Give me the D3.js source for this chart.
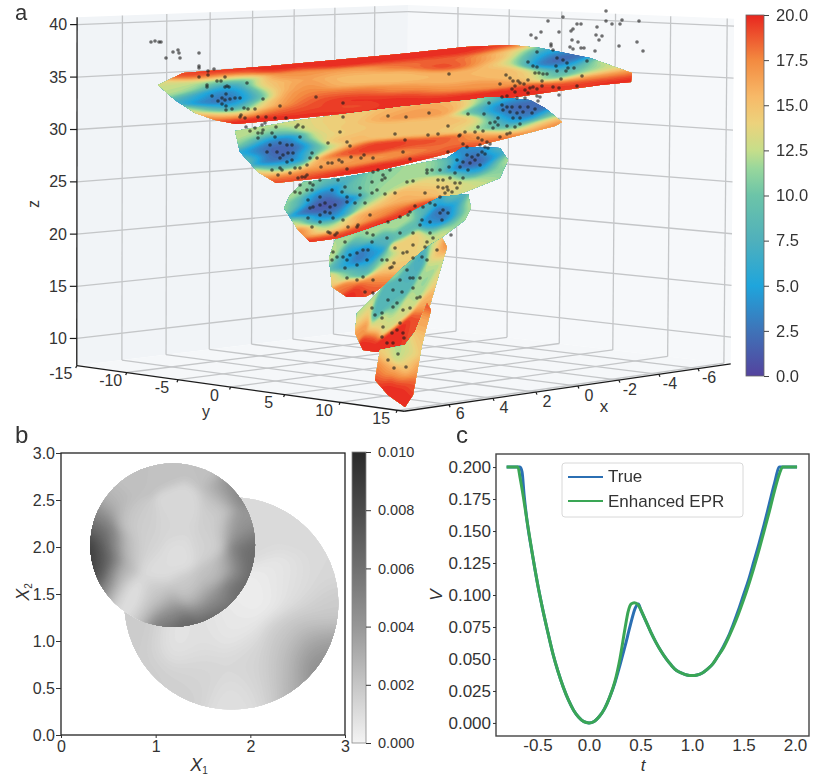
<!DOCTYPE html>
<html><head><meta charset="utf-8">
<script src="https://cdn.jsdelivr.net/npm/d3@7"></script>
<style>html,body{margin:0;padding:0;background:#fff}svg{display:block}text{font-family:"Liberation Sans",Arial,sans-serif;fill:#333}</style>
</head><body><svg id="c" width="815" height="780"></svg>
<script>
// ---------- panel a: ticks ----------
const xTicksA=[-6,-4,-2,0,2,4,6];
const yTicksA=[-10,-5,0,5,10,15];
const zTicksA=[10,15,20,25,30,35,40];
const barTicksA=[0,2.5,5,7.5,10,12.5,15,17.5,20];
const heatStops=[0,2.5,5,7.5,10,11.5,12.5,14,15.5,17.5,20];
const heatColors=["#54439e","#3f73b8","#1fa5dc","#4fb0bc","#6cc4a8","#98d79c","#c6de8a","#ecd27c","#f7b968","#f38a40","#e8261f"];
// ---------- panel a: the six surface slabs, in view units (u along the screen, v height) ----------
const slabAOutline=[[-24.2,34],[-21.7,35.2],[-13,35.9],[0,37.1],[6.5,37.8],[11,38],[14,37.7],[19,36.7],[23.2,35.2],[23.1,34.3],[20,34],[13,33],[8,32.3],[0,31.7],[-10,30.7],[-16.4,30.1],[-18.5,30.5],[-20.5,31.2],[-22.5,32.5]];
const slabAValues=[[-17.4,32.7,0],[-18.3,32.7,1],[-16.5,32.7,1],[-18.8,32.7,4],[-16,32.7,4],[-17.4,33.5,5],[-17.4,31.9,5],[-20,32.8,8.5],[-14.8,32.7,8],[-17.4,34.5,11],[-17.4,31,12],[-21,33.5,12],[-22.5,33.7,12.5],[-24,34,13],[-20,31.5,14],[-13.8,33.3,12],[-13.8,32,13],[-20.5,35.1,19],[-16,35.7,20],[-17.4,35,18],[-17.8,30.5,20],[-16,30.2,20],[-19,30.8,20],[-13,34,14.5],[-12.5,32.5,16],[-12,31.5,18],[-10,36.3,19.5],[-10,35,17],[-10,34,17.5],[-11,33.3,18],[-10,32.5,18.5],[-10,31.5,19.5],[-5,36.3,20],[-5,35.3,16.5],[-5,34.3,15.5],[-5,33.3,17.5],[-5,32.5,20],[-5,31.7,18.5],[-5,31.2,20],[0,36.9,20],[0,36,18],[0,34.7,15.5],[0,33.5,17],[0,32.5,20],[0,31.9,20],[5,37.5,20],[5,36.5,18.5],[5,35.9,19.5],[5,34.7,15.8],[5,33.5,16.5],[5,32.5,20],[9,37.7,19.5],[9,36.5,17],[9,35.5,15.5],[9,34,17],[9,32.8,20],[15.5,36.5,0],[14.7,36.6,1],[16.3,36.4,1],[14,36.8,4],[17,36.2,4],[15.5,37.3,7],[16,35.5,6],[12.5,36.7,9.5],[18.5,35.7,9.5],[12,37.5,11],[20,35.7,13],[20,36.3,14],[19,35.5,12],[21.5,35.3,16],[19,34.7,17],[22.5,35,19],[22.5,34.4,20],[18,34,19.5],[15,33.7,18.5],[13,35,14.5],[12,35.3,15.5],[11,36.3,13],[10.5,37,16],[13,33.3,20],[-18.5,35.5,20],[-13,35.7,20],[-7,36.3,20],[0,36.8,20],[6.5,37.5,20],[10,37.8,20],[-13,30.6,20],[-7,31.2,20],[6,32.5,20],[10,32.9,20],[15,33.5,20],[20,34.2,20],[-5,32.9,19.5],[0,32.9,19.5],[5,33,19.5],[-9,32.3,19],[-5,34.8,15],[0,34.9,15.3],[5,34.9,15.5]];
const slabBOutline=[[-16.5,29.4],[-10,30.5],[0,31.8],[7,32.5],[9,32.8],[13,32.5],[14.5,31.7],[16.2,30.3],[15.5,29.9],[12,29],[8,28],[3,26.7],[-2,25.5],[-7,24.8],[-12.4,24.2],[-14.2,25.3],[-16,27.3]];
const slabBValues=[[-12.1,27.4,0],[-13.3,27.4,0.5],[-10.9,27.4,0.5],[-12.1,28,1],[-12.1,26.8,1],[-13.8,27.5,3.5],[-10.4,27.5,3.5],[-12.1,28.5,5],[-12.1,26.2,5],[-15,27.5,6],[-8.8,27.5,7],[-12,29.4,11],[-15,29.5,12],[-16,29,12.5],[-16.3,28,12.5],[-15.7,26.5,12.5],[-14.5,25.3,14],[-12,25.7,8],[-13,25,13],[-11,24.8,17],[-12.3,24.3,20],[-14.2,24.9,20],[-9,29.8,14],[-8,28.8,13],[-7.5,27.5,13.5],[-7,26.2,16],[-8,25.3,17],[-9,24.7,19.5],[-6.5,25,20],[-10,30.3,13.5],[-6,30.7,14.5],[0,31.3,15.5],[4,31.8,15.5],[7,32.2,13],[-5,29.5,14.8],[0,30,15],[5,30.3,15.2],[8,30.7,15.5],[1.3,31.2,17.5],[4.5,31.7,17.5],[11.3,31.5,0],[10,31.4,0.5],[12.6,31.2,0.5],[9.5,31.7,4],[13,31.3,3.5],[11.3,32.5,5],[11.3,30.5,6],[8,31.5,10],[15,31,10],[9,30,10],[12,29.7,11],[14.5,30.3,14],[15.8,30.3,17],[15.5,29.9,19],[13.5,29.5,17],[10,28.5,18],[7,27.9,19],[8,28.7,15],[7,30,13],[9,32.5,9],[-5,27.4,19.5],[-2,27.8,19.5],[3,28.2,19],[6.3,28.5,19],[-5,26.2,17],[0,27,17],[4,27.5,17],[-5,25.1,20],[0,26,20],[5,27.2,19.5],[-6,28.5,15.5],[0,29.3,14.8],[5,29.7,15.2],[-13,24.7,20],[-8,24.9,20],[-3,25.5,20],[2,26.7,20],[6,27.7,20],[10,28.6,19]];
const slabCOutline=[[-11.6,21.7],[-11,23],[-9.7,24.3],[-6,24.7],[-1,25.6],[4.7,26.7],[6.3,27.8],[10,27.7],[10.8,26.5],[10,24.7],[6.5,23.3],[2.3,22],[-2,19.7],[-6,18.7],[-9,18.3],[-10.2,19.5]];
const slabCValues=[[-7.7,21.8,0],[-8.9,21.8,0.5],[-6.5,21.8,0.5],[-7.7,22.5,1],[-7.7,21,1],[-9.5,22,4],[-5.8,22,3.5],[-7.7,23.2,5],[-7.7,20.5,6],[-10.5,22,10],[-11.2,21.7,12.5],[-10.5,23,12.5],[-9,24,11],[-7,24.3,8],[-5,23.5,9],[-4,22,11],[-10,20.3,13.5],[-9,19.5,17],[-9,18.5,20],[-10,19.3,19],[-7,19.7,11],[-5.5,20,15],[-5,19.3,19],[-3,19.7,19.5],[-3.5,20.7,17],[-2,22,15],[7.3,26.5,0.5],[6.5,26.5,1],[8.2,26.5,1],[7.3,26,1.5],[5.8,26.5,4],[9,26.8,4.5],[7.3,27.5,5],[7,25.3,7],[4.5,26,9.5],[10.5,26.5,13],[9.5,27.5,10],[9.5,25.3,11],[7,24.2,13],[5,24.7,13],[4,26,12],[3,24,14],[1,23,16],[5,24,14.5],[0,24.5,12],[-3,24,11],[-1,21.5,17.5],[2,23,15.5],[-8,18.5,20],[-5,18.9,20],[-2,19.9,20],[1,21.5,19.5]];
const slabDOutline=[[-7.1,16.7],[-6.5,18.5],[-4,19.3],[0,20.7],[4,22.8],[6.8,23.1],[7.1,21.7],[6.5,20.5],[4.5,19],[3.2,18],[1.5,16.7],[0,15.3],[-2.2,13.5],[-3.5,12.8],[-5.3,12.8],[-6.8,13.8]];
const slabDValues=[[-4.2,16.7,1.5],[-5,16.7,3],[-3.4,16.7,3],[-5.2,16.5,5],[-3,16.8,5],[-5.7,16.5,9],[-4.2,18,8],[-4,15.5,9],[-7,16.8,12.5],[-6,18.2,12],[-5.3,15.2,11],[-6.7,14.5,15],[-5.7,13.7,18],[-4.7,13,20],[-3.3,13.5,19],[-2.3,14.5,17],[-1,15.8,15],[-2,16.2,11],[-0.5,16.3,14],[1.2,18.5,14.5],[-2,18.5,8],[0.7,19.5,9],[3.3,20.2,6],[4.3,21.2,1.5],[3.5,21,2],[5,21.3,2.5],[5.5,21.5,6],[3,22,7],[5,22.5,10],[6.7,22,12.5],[6.2,20.7,12],[4,19.3,13],[2,18.5,14],[-3,19,12],[0,20.3,12],[2.5,21.5,9]];
const slabEOutline=[[-4.3,11.2],[-4.5,9.2],[-3.7,7.5],[-2.3,7.3],[0.5,8],[1.3,9],[3,12],[4.7,17.8],[4.2,18.7],[3,18],[0,15.5],[-2.5,13]];
const slabEValues=[[-2,11.8,8],[0,13.2,8],[2,16.2,7],[0.7,14.2,8],[-4,11.5,12],[3.3,14.2,14],[2.7,12.5,16],[1.3,10.2,19],[0,9.2,20],[-1.7,7.8,20],[-3.3,8.2,20],[-4.3,9.3,17],[-4,10.5,14],[-2,10.2,13],[-0.7,10.8,13],[0.7,11.8,13],[1.7,13.2,12],[3,15.8,12],[4,17.5,15],[4.5,18.3,20],[3.7,17.8,12],[1,17.2,11],[-1,12.5,8],[1,15,8],[2.5,14,11],[-0.5,11.8,10]];
const slabFOutline=[[2.7,12.2],[3.1,11.5],[2.2,8],[1.3,3],[0.5,1.8],[-1.2,3],[-2.5,4.5],[-2,7.5],[0.5,8],[1.5,9.3]];
const slabFValues=[[-0.2,7.2,12],[-1.5,7,14],[1,7.5,13],[-1.5,5.5,16],[0.8,6,14],[-2,5,18],[-2.2,4.3,20],[-1.5,3.3,20],[-0.5,2.5,20],[0.5,2.2,20],[1.2,4,19],[1.5,5.5,17],[2,8,15],[2.5,10.5,16],[2.8,11.9,19],[-0.2,5,16],[-0.8,4,20],[0,3.7,20],[-2.3,5.8,18]];
const slabs=[[slabAOutline,slabAValues,3.0,0.48,0.085],[slabBOutline,slabBValues,2.6,0.5,0.16],[slabCOutline,slabCValues,2.0,0.55,0.3],[slabDOutline,slabDValues,1.3,0.6,0.45],[slabEOutline,slabEValues,0.9,0.7,1],[slabFOutline,slabFValues,0.8,1,0]];
// ---------- panel a: scatter, same view units ----------
const scatterA=[[-24.9,38.3],[-24.5,38.4],[-24.1,38.3],[-23.9,38.3],[-22.7,37.3],[-22.2,37.5],[-22.1,37.2],[-23.4,36.7],[-22,36.7],[-20.1,37.2],[-20.1,35.9],[-20.1,35.7],[-18.6,35.6],[-20.1,34.8],[-19.2,35],[-19.2,35.4],[-17.5,34.8],[-17.9,34.4],[-18.3,34.4],[-19.3,33.8],[-19.3,34],[-17.5,33.8],[-17.3,33.9],[-17.1,33.8],[-17.4,33.1],[-15.3,34.2],[-18.8,32.9],[-18.2,32.4],[-17.8,32.7],[-17.5,32.5],[-17,32.6],[-16.5,32.7],[-16,32.7],[-17.8,32.1],[-17.4,31.9],[-17.4,31.5],[-16.8,31.6],[-15.6,31.7],[-15.2,31.6],[-14.5,31.6],[-13.7,32.6],[-12,31.9],[-15.9,31],[-15.5,30.7],[-14.2,30.8],[-16,30.8],[-13.4,30.8],[-12.5,30.7],[-11.4,30.7],[-8.4,32.8],[-5.7,32.2],[-5.7,30.8],[-1.2,30.9],
[-15.4,29.8],[-15,29.4],[-14.5,29.7],[-13.8,30],[-13.5,30.2],[-13.8,29.2],[-14.2,28.7],[-12.4,29.8],[-10.4,29.8],[-9.7,29.8],[-13,28],[-13.3,27.3],[-12,28.2],[-11.3,28],[-10.8,28],[-12.3,27.3],[-11.7,27],[-11.2,27.2],[-10.7,27.2],[-12,26.7],[-11.3,26.3],[-10.8,26.5],[-12.8,25.5],[-12,25.7],[-11.8,25.5],[-13.7,29.5],[-12.8,29.2],[-12.5,28.8],[-14.2,29.2],[-10.2,30],[-10,28.8],[-8.8,27.2],[-9,26.7],[-8.3,26.7],[-9.3,26],[-10,25.7],[-10.5,25.7],[-9.8,24.8],[-9.5,24.8],[-10.2,24.7],[-9.3,25],[-12.2,25],[-11,25.2],
[-6,29.3],[-7.2,28.2],[-5.3,28.3],[-5,27.9],[-0.5,29.1],[0.5,28.5],[2.8,29],[3.8,29.1],[4.8,29.9],[6,29],[6.5,29.3],[7.5,29.3],[7.8,29.8],[0.3,27.3],[1,26.6],[4.8,27.3],[-7.2,26.2],[-6.8,26.2],[-6.1,26.5],[-5.8,26.3],[-4.9,26.8],[-3.9,26.7],[-3.6,27],[-2.7,26.7],[-5.3,25.6],[-7.9,25.8],[-2.7,25.3],[-2.2,25.5],[-1,25.5],[0.6,30.8],[2.9,31.2],[6.8,31.1],
[7.8,28.7],[8.2,28.5],[8.7,28.3],[8,28],[8.5,27.8],[8.8,27.7],[6.7,27.8],[6.7,27],[7.2,26.8],[7.8,27],[8.2,27.3],[8.5,27.1],[6.3,26.3],[7,26.2],[7.5,26.5],[6.8,25.5],[5.7,26.5],[6,25.8],[5.5,25.2],[4.9,25.8],[8,26],
[2.7,25.5],[3.2,25.5],[4,25.5],[2.7,25.2],[3.8,24.5],[4.3,24.5],[4.7,23.8],[4.3,23.7],[4.8,23.5],[5.2,23.3],[5.7,23.7],[6,24.2],[6.3,24.7],[5.5,24.2],[5,24.7],[4.5,23.2],[4,22.8],[3.5,22],[3,22.2],[2.5,23.2],[3.8,23.8],[-1.7,25],[-1.5,24.7],[-1.8,24.5],[-2.8,24.3],[-4,23.7],[-2.3,23.5],[-2.8,23.2],[-1.5,23.1],[-0.5,23.2],[0.7,24.3],[1.3,24.4],[1.5,21.9],[2.3,21.8],[1,21.3],[0,20.8],[-1.2,20.3],[-3,21],[-3.5,22.2],[-4.5,22.2],[-4,23],[-5.2,19.8],[-4.2,20],[-3.3,19.2],[-6.3,19.2],[-7,19.2],[-6.5,19],
[-7.5,22.2],[-8,22],[-8.7,21.8],[-9,21.7],[-7,21.8],[-6.5,22],[-8,22.8],[-6.8,23.5],[-5.8,23.3],[-5.3,22.8],[-5.3,22.3],[-9.2,22.5],[-7.5,21.3],[-8,21],[-7,21.2],[-5.7,20.5],[-6.7,20.7],[-9.2,20.7],[-8.8,19.8],[-8,20.3],[-8.7,24],[-9,24.2],[-9.3,23.5],[-8.8,23.5],[-8,24.5],[-6.2,24.5],[-5.5,23.8],[-10,23.2],[-10.5,23.3],[-10,24],
[20.6,41.4],[16.3,40.8],[14.8,40.4],[20.6,40.4],[21.2,40.1],[22,40.1],[22.2,40.5],[23.9,40.4],[17.7,40.1],[18.1,40.1],[19.7,39.8],[14.1,39.3],[15.9,39.3],[17.3,39.6],[17.1,39.4],[19.6,39],[20.2,38.9],[13.1,39],[13.6,38.7],[19.9,38.5],[17.2,38.5],[17.8,38.3],[23.7,38.3],[21.9,37.9],[24.3,37.4],[15.1,38.1],[15.1,37.9],[17,37.8],[17.3,37.6],[18.1,37.7],[18.4,37.7],[19.5,37.4],
[15.3,37.5],[13.7,37.3],[12.8,36.3],[13.3,35.9],[13.7,35.8],[15.7,36.7],[16.3,36.5],[15.6,35.9],[16.7,36.2],[16.8,35.7],[17.4,35.7],[16.6,35.4],[15.7,35.4],[18.7,36.4],[18.2,34.9],[17.7,33.9],[14.7,35.1],[14.3,35.1],[13.9,35.2],[13.5,35.2],[10.6,35],[11,34.7],[11.3,34.4],[11.8,34.4],[12.8,34.5],[12.4,34.1],[12,34.2],[14.2,34.4],[16.1,34.6],[10,34.1],[11.5,33.9],[11.2,33.6],[11.5,33.3],[12.5,33.5],[13,33.7],[13.3,33.8],[13.7,33.6],[14.2,33.9],[15.3,33.8],[15.9,33.7],[12.8,33.2],[12.5,32.7],[10.7,32.9],[10.2,32.8],[13.7,32.9],[14,32.8],[13.8,32.4],[15.9,33],[4.9,35.1],[11.7,32.7],
[8.9,32.2],[10.2,32],[10.7,31.8],[11.2,31.8],[12,31.8],[12.8,31.8],[10.3,31.5],[11,31.3],[11.7,31.2],[12.3,31.3],[13.2,31.2],[13.5,31.6],[8.4,31.1],[11.3,30.7],[12,30.7],[9.8,30.7],[9.5,30.3],[9,30.2],[9.8,30],[11.5,29.8],[10.7,29.9],[9.3,29.7],[12,30.1],[8.3,29.4],[5.9,28.9],[10,28.8],[10.7,29.1],[11,29.2],[9,28.1],[6.3,28.1],
[-7.2,19.3],[-4.3,19.8],[-5.5,18.3],[-6.7,17.3],[-6.8,16.5],[-6.3,16.8],[-5.7,16.8],[-2.8,18.3],[-3.7,17.5],[-4.3,17.2],[-5,17],[-3.2,17.5],[-3.3,16.5],[-4.3,16],[-5.5,15.7],[-5.3,16.5],[-5.3,14.7],[-4.3,14.5],[-3.7,14.8],[-2.7,14.5],[-3.5,13.3],[-1.8,16.5],[-1.3,16.5],[-1,15.7],[-0.6,16.2],[0.3,17.2],[0.7,17.3],[1.3,18],[-0.5,17.7],[-2.7,19],[2,20],[1.3,19.2],[0,19.2],[-1.3,18.7],[0.8,21],[2.2,20.5],[3,20.3],[4.3,21.5],[4,21.2],[4.8,21.2],[4.2,20.5],[3,19.2],[2.7,18.3],[3.3,18.7],[3.7,17.5],[2.5,17.8],[2.2,16.8],[2.7,16.5],[1.3,16.7],[0.7,15.5],[1.3,14.7],[2,14.7],[1,14.7],[-0.8,15.8],[0,14.5],[-0.7,13.5],[-1.2,12.5],[-2.7,13.2],[-2.8,11.7],[-2.5,11],[-1.8,11.2],[-1.8,10.7],[-0.7,11.8],[0.3,11.5],[1,11.7],[1.7,12.7],[2,12.8],[1.3,13.7],[0.2,13.3],[-0.3,12.2],[0,10.2],[-0.3,9.5],[0.3,9.2],[-0.8,9.2],[-1.7,9.8],[-1.8,8.8],[-1.3,8.2],[-0.7,8.2],[0.4,8.7],[-0.2,7.1],[-1.2,6.5],[-0.6,5.7],[0.6,5.8],[5.1,19]];
// ---------- panel b ----------
const b1Ticks=[0,1,2,3];
const b2Ticks=[0,0.5,1,1.5,2,2.5,3];
const bBarTicks=[0,0.002,0.004,0.006,0.008,0.01];
const grayStops=[0,0.002,0.004,0.006,0.008,0.01];
const grayColors=["#f4f4f4","#c6c6c6","#979797","#707070","#4c4c4c","#2a2a2a"];
const upperDisc=[1.18,2.02,0.87];
const lowerDisc=[1.8,1.4,1.13];
const upperField=[[0.33,2,0.0095],[0.33,1.85,0.0095],[0.36,1.7,0.0085],[0.45,1.55,0.006],[0.55,1.5,0.003],[0.65,1.45,0.001],[0.38,2.2,0.0065],[0.45,2.35,0.0042],[0.7,2,0.0024],[0.9,2,0.0014],[0.7,2.3,0.002],[0.6,1.7,0.0024],[0.45,1.86,0.006],[0.5,2.05,0.005],[0.69,1.4,0.0004],[0.75,1.47,0.0004],[0.55,2.5,0.0025],[0.76,2.75,0.0022],[1.12,2.87,0.0022],[1.54,2.82,0.0022],[1.85,2.6,0.0055],[1.75,2.62,0.0035],[1.66,2.46,0.0018],[1.29,2.45,0.0012],[1.19,2.22,0.0013],[1.26,1.93,0.0009],[1.05,1.79,0.001],[0.87,2.22,0.0016],[1.01,1.47,0.0016],[1.33,1.54,0.0018],[1.61,1.68,0.0022],[1.54,2,0.0015],[1.64,2.22,0.0016],[1.86,2.18,0.004],[1.98,2.25,0.004],[1.96,1.86,0.0062],[2.02,2.05,0.0062],[2,1.8,0.0065],[1.9,1.55,0.0065],[1.82,1.5,0.006],[1.7,1.3,0.0068],[1.54,1.24,0.0068],[1.3,1.17,0.0068],[1.05,1.2,0.006],[0.85,1.28,0.002],[1.47,1.4,0.003],[1.79,1.79,0.003],[1.65,1.45,0.004],[1.15,1.33,0.004],[0.94,1.4,0.0022]];
const lowerField=[[2.17,2.32,0.0011],[2.52,2.18,0.0012],[2.81,1.76,0.0012],[2.88,1.37,0.0018],[2.35,1.65,0.0005],[2.1,1.5,0.0003],[1.82,1.15,0.0005],[1.47,1.08,0.0009],[1.19,1.01,0.0006],[0.83,1.08,0.0018],[0.76,1.15,0.0018],[0.9,0.73,0.0017],[1.47,0.69,0.0013],[2,0.8,0.0013],[2.35,0.73,0.0022],[2.63,0.94,0.004],[2.7,0.66,0.005],[2.84,0.94,0.004],[2.45,0.51,0.0032],[1.82,0.34,0.0009],[1.29,0.48,0.0016],[2.7,1.22,0.0016],[2.42,1.05,0.0016],[2.17,0.51,0.0012],[2.52,1.58,0.0012],[2,2.11,0.0012]];
// ---------- panel c ----------
const cXTicks=[-0.5,0,0.5,1,1.5,2];
const cYTicks=[0,0.025,0.05,0.075,0.1,0.125,0.15,0.175,0.2];
const cTrue=[[-0.8,0.2],[-0.67,0.2],[-0.65,0.196],[-0.63,0.178],[-0.6,0.157],[-0.55,0.132],[-0.5,0.109],[-0.45,0.089],[-0.4,0.071],[-0.35,0.054],[-0.3,0.04],[-0.25,0.028],[-0.2,0.018],[-0.15,0.01],[-0.1,0.0045],[-0.05,0.001],[0,0],[0.05,0.0012],[0.1,0.005],[0.15,0.011],[0.2,0.02],[0.25,0.031],[0.3,0.045],[0.35,0.06],[0.4,0.076],[0.45,0.09],[0.48,0.093],[0.5,0.089],[0.55,0.08],[0.6,0.071],[0.65,0.063],[0.7,0.056],[0.75,0.05],[0.8,0.045],[0.85,0.041],[0.9,0.039],[0.95,0.0375],[1,0.037],[1.05,0.0375],[1.1,0.039],[1.15,0.042],[1.2,0.046],[1.25,0.052],[1.3,0.059],[1.35,0.067],[1.4,0.077],[1.45,0.088],[1.5,0.1],[1.55,0.112],[1.6,0.126],[1.65,0.14],[1.7,0.155],[1.75,0.171],[1.8,0.187],[1.85,0.2],[2.02,0.2]];
const cEnhanced=[[-0.8,0.2],[-0.69,0.2],[-0.67,0.192],[-0.64,0.178],[-0.6,0.157],[-0.55,0.132],[-0.5,0.109],[-0.45,0.089],[-0.4,0.071],[-0.35,0.054],[-0.3,0.04],[-0.25,0.028],[-0.2,0.018],[-0.15,0.01],[-0.1,0.0045],[-0.05,0.001],[0,0],[0.05,0.0012],[0.1,0.005],[0.15,0.011],[0.2,0.02],[0.25,0.032],[0.3,0.05],[0.35,0.074],[0.38,0.087],[0.41,0.093],[0.44,0.094],[0.48,0.092],[0.5,0.089],[0.55,0.08],[0.6,0.071],[0.65,0.063],[0.7,0.056],[0.75,0.05],[0.8,0.045],[0.85,0.041],[0.9,0.039],[0.95,0.0375],[1,0.037],[1.05,0.0375],[1.1,0.039],[1.15,0.042],[1.2,0.046],[1.25,0.052],[1.3,0.058],[1.35,0.066],[1.4,0.075],[1.45,0.085],[1.5,0.096],[1.55,0.108],[1.6,0.121],[1.65,0.135],[1.7,0.15],[1.75,0.165],[1.8,0.181],[1.85,0.195],[1.88,0.2],[2.02,0.2]];

const svg=d3.select("#c");
const defs=svg.append("defs");
const heat=d3.scaleLinear().domain(heatStops).range(heatColors).clamp(true);
const gray=d3.scaleLinear().domain(grayStops).range(grayColors).clamp(true);

// ===== panel a: box projection fitted to its corners =====
const X0=-7.7,X1=8,Y0=-15,Y1=15.6,Z0=7.4,Z1=40.7;
const corners=[[X1,Y0,Z0,77,365],[X1,Y0,Z1,76,18],[X1,Y1,Z0,405,411],[X0,Y0,Z0,405,325],[X0,Y0,Z1,410,5],[X0,Y1,Z0,731,365],[X0,Y1,Z1,733,18]];
function fit(c){const A=[],b=[];for(const [x,y,z,u0,v0] of c){const u=u0/100,v=v0/100;A.push([x,y,z,1,0,0,0,0,-u*x,-u*y,-u*z]);b.push(u);A.push([0,0,0,0,x,y,z,1,-v*x,-v*y,-v*z]);b.push(v);}
const n=11,M=d3.range(n).map(i=>d3.range(n+1).map(j=>{let s=0;for(let k=0;k<A.length;k++)s+=A[k][i]*(j<n?A[k][j]:b[k]);return s;}));
for(let i=0;i<n;i++){let p=i;for(let r=i;r<n;r++)if(Math.abs(M[r][i])>Math.abs(M[p][i]))p=r;[M[i],M[p]]=[M[p],M[i]];for(let r=0;r<n;r++){if(r==i)continue;const f=M[r][i]/M[i][i];for(let k=i;k<=n;k++)M[r][k]-=f*M[i][k];}}
return M.map((r,i)=>r[n]/r[i]);}
const P=fit(corners);
const proj=(x,y,z)=>{const w=P[8]*x+P[9]*y+P[10]*z+1;return [100*(P[0]*x+P[1]*y+P[2]*z+P[3])/w,100*(P[4]*x+P[5]*y+P[6]*z+P[7])/w];};
const gA=svg.append("g");
const line3=d3.line();
const poly=pts=>line3(pts.map(p=>proj(...p)))+"Z";
gA.append("path").attr("d",poly([[X1,Y0,Z0],[X1,Y0,Z1],[X0,Y0,Z1],[X0,Y0,Z0]])).attr("fill","#f1f4f7");
gA.append("path").attr("d",poly([[X0,Y0,Z0],[X0,Y0,Z1],[X0,Y1,Z1],[X0,Y1,Z0]])).attr("fill","#f6f8fa");
gA.append("path").attr("d",poly([[X1,Y0,Z0],[X1,Y1,Z0],[X0,Y1,Z0],[X0,Y0,Z0]])).attr("fill","#f5f7f9");
const gridA=(a,b)=>gA.append("path").attr("d",line3([proj(...a),proj(...b)])).attr("stroke","#c4c6c8").attr("stroke-width",1.3).attr("fill","none");
zTicksA.forEach(z=>{gridA([X1,Y0,z],[X0,Y0,z]);gridA([X0,Y0,z],[X0,Y1,z]);});
xTicksA.forEach(x=>{gridA([x,Y0,Z0],[x,Y0,Z1]);gridA([x,Y0,Z0],[x,Y1,Z0]);});
yTicksA.forEach(y=>{gridA([X0,y,Z0],[X0,y,Z1]);gridA([X0,y,Z0],[X1,y,Z0]);});
const edge=(a,b)=>gA.append("path").attr("d",line3([proj(...a),proj(...b)])).attr("stroke","#1c1c1c").attr("stroke-width",1.3).attr("fill","none");
edge([X1,Y0,Z0],[X1,Y0,Z1]);edge([X1,Y0,Z0],[X1,Y1,Z0]);edge([X1,Y1,Z0],[X0,Y1,Z0]);
const lab=(x,y,t,o={})=>{const e=svg.append("text").attr("x",x).attr("y",y).attr("text-anchor",o.a||"middle").attr("dominant-baseline","central").attr("font-size",o.s||16).text(t);if(o.i)e.attr("font-style","italic");if(o.r)e.attr("transform",`rotate(${o.r} ${x} ${y})`);return e;};
zTicksA.forEach(z=>{const p=proj(X1,Y0,z);gA.append("path").attr("d",line3([[p[0]-7,p[1]],p])).attr("stroke","#1c1c1c").attr("stroke-width",1.2);lab(p[0]-10,p[1],z,{a:"end"});});
[-15,...yTicksA].forEach(y=>{const p=proj(X1,y,Z0);gA.append("path").attr("d",line3([p,[p[0]-1,p[1]+2.5]])).attr("stroke","#1c1c1c").attr("stroke-width",1.2);lab(p[0]-16,p[1]+8,y);});
xTicksA.forEach(x=>{const p=proj(x,Y1,Z0);gA.append("path").attr("d",line3([p,[p[0]+1,p[1]+2.5]])).attr("stroke","#1c1c1c").attr("stroke-width",1.2);lab(p[0]+11,p[1]+9,x);});
lab(33,204,"z",{r:-90});lab(206,411,"y");lab(604,406,"x",{s:17});

// surfaces
const uS=d3.scaleLinear().domain([-30,30]).range([100,700]);
const vS=d3.scaleLinear().domain([0,40]).range([425,25]);
const gS=svg.append("g").attr("filter","url(#soft)");
defs.append("filter").attr("id","soft").append("feGaussianBlur").attr("stdDeviation",0.45);
const thrA=d3.range(0,20.01,0.4);
slabs.forEach(([outline,vals,hu,hv,slope],i)=>{
  const px=outline.map(d=>[uS(d[0]),vS(d[1])]);
  const x0=d3.min(px,d=>d[0])-3,x1=d3.max(px,d=>d[0])+3,y0=d3.min(px,d=>d[1])-3,y1=d3.max(px,d=>d[1])+3;
  const step=2,n=Math.ceil((x1-x0)/step)+1,m=Math.ceil((y1-y0)/step)+1;
  const grid=new Float64Array(n*m);
  for(let j=0;j<m;j++)for(let k=0;k<n;k++){
    const u=uS.invert(x0+k*step),v=vS.invert(y0+j*step);let sw=0,sv=0;
    for(const [a,b,c] of vals){const h=c<11?hu*0.7:hu,hh=c<7?hv*1.6:hv;const du=(u-a)/h,dv=(v-b-slope*(u-a))/hh;const w=Math.exp(-(du*du+dv*dv))+1e-12;sw+=w;sv+=w*c;}
    grid[j*n+k]=sv/sw;
  }
  const cs=d3.contours().size([n,m]).thresholds(thrA)(grid);
  defs.append("clipPath").attr("id","cl"+i).append("path").attr("d",d3.line().curve(d3.curveLinearClosed)(px));
  const g=gS.append("g").attr("clip-path",`url(#cl${i})`);
  const gi=g.append("g").attr("transform",`translate(${x0-step/2},${y0-step/2}) scale(${step})`);
  gi.selectAll("path").data(cs).join("path").attr("d",d3.geoPath()).attr("fill",d=>heat(d.value+0.2));
});
svg.append("g").selectAll("circle").data(scatterA).join("circle").attr("cx",d=>uS(d[0])).attr("cy",d=>vS(d[1])).attr("r",1.8).attr("fill","#1a1a1a").attr("fill-opacity",0.62);

// colour bar a
const barA=d3.scaleLinear().domain([0,20]).range([376,15]);
const gradA=defs.append("linearGradient").attr("id","gA").attr("x1",0).attr("x2",0).attr("y1",1).attr("y2",0);
heatStops.forEach((s,i)=>gradA.append("stop").attr("offset",s/20).attr("stop-color",heatColors[i]));
svg.append("rect").attr("x",746).attr("y",15).attr("width",18).attr("height",361).attr("fill","url(#gA)").attr("stroke","#666").attr("stroke-width",0.8);
const axBarA=svg.append("g").attr("transform","translate(764,0)").call(d3.axisRight(barA).tickValues(barTicksA).tickFormat(d3.format(".1f")).tickSize(5).tickPadding(7));
axBarA.select(".domain").remove();axBarA.selectAll("text").attr("font-size",16.5).attr("font-family",null).style("fill","#333");axBarA.selectAll("line").attr("stroke","#444");

// ===== panel b =====
const bx=d3.scaleLinear().domain([0,3]).range([61,345]);
const by=d3.scaleLinear().domain([0,3]).range([735,453]);
function disc(field,d,id,h){
  const step=1.5,x0=bx(0),y0=by(3),n=Math.ceil(284/step)+1,m=Math.ceil(282/step)+1;
  const g=new Float64Array(n*m);
  for(let j=0;j<m;j++)for(let k=0;k<n;k++){
    const u=bx.invert(x0+k*step),v=by.invert(y0+j*step);let sw=0,sv=0;
    for(const [a,b,c] of field){const w=Math.exp(-((u-a)*(u-a)+(v-b)*(v-b))/(h*h))+1e-12;sw+=w;sv+=w*c;}
    g[j*n+k]=sv/sw;
  }
  const cs=d3.contours().size([n,m]).thresholds(d3.range(0,0.0101,0.0001))(g);
  const rx=Math.abs(bx(d[2])-bx(0)),ry=Math.abs(by(d[2])-by(0));
  defs.append("clipPath").attr("id",id).append("ellipse").attr("cx",bx(d[0])).attr("cy",by(d[1])).attr("rx",rx).attr("ry",ry);
  svg.append("g").attr("clip-path",`url(#${id})`).append("g").attr("transform",`translate(${x0-step/2},${y0-step/2}) scale(${step})`)
    .selectAll("path").data(cs).join("path").attr("d",d3.geoPath()).attr("fill",c=>gray(c.value+0.00005));
}
disc(lowerField,lowerDisc,"dl",0.24);
disc(upperField,upperDisc,"du",0.16);
svg.append("rect").attr("x",61).attr("y",453).attr("width",284).attr("height",282).attr("fill","none").attr("stroke","#222").attr("stroke-width",1.3);
const styleAx=(g,s)=>{g.selectAll("text").attr("font-size",s).attr("font-family",null).style("fill","#333");g.selectAll("line").attr("stroke","#333");g.select(".domain").remove();};
styleAx(svg.append("g").attr("transform","translate(61,0)").call(d3.axisLeft(by).tickValues(b2Ticks).tickFormat(d3.format(".1f")).tickSize(5).tickPadding(1)),16);
styleAx(svg.append("g").attr("transform","translate(0,735)").call(d3.axisBottom(bx).tickValues(b1Ticks).tickFormat(d3.format("d")).tickSize(3).tickPadding(3)),16);
const xl=svg.append("text").attr("x",199).attr("y",771).attr("text-anchor","middle").attr("font-size",18);
xl.append("tspan").attr("font-style","italic").text("X");xl.append("tspan").attr("font-size",10).attr("dy",3).text("1");
const yl=svg.append("text").attr("transform","translate(29,592) rotate(-90)").attr("text-anchor","middle").attr("font-size",18);
yl.append("tspan").attr("font-style","italic").text("X");yl.append("tspan").attr("font-size",10).attr("dy",3).text("2");
// colour bar b
const barB=d3.scaleLinear().domain([0,0.01]).range([743,452]);
const gradB=defs.append("linearGradient").attr("id","gB").attr("x1",0).attr("x2",0).attr("y1",1).attr("y2",0);
grayStops.forEach((s,i)=>gradB.append("stop").attr("offset",s/0.01).attr("stop-color",grayColors[i]));
svg.append("rect").attr("x",352).attr("y",452).attr("width",14).attr("height",291).attr("fill","url(#gB)").attr("stroke","#888").attr("stroke-width",0.8);
styleAx(svg.append("g").attr("transform","translate(366,0)").call(d3.axisRight(barB).tickValues(bBarTicks).tickFormat(d3.format(".3f")).tickSize(5).tickPadding(7)),14.5);

// ===== panel c =====
const cx=d3.scaleLinear().domain([-0.903,2.136]).range([496,809]);
const cy=d3.scaleLinear().domain([-0.0102,0.2102]).range([736,454]);
const cl=d3.line().x(d=>cx(d[0])).y(d=>cy(d[1])).curve(d3.curveMonotoneX);
svg.append("path").attr("d",cl(cTrue)).attr("fill","none").attr("stroke","#2b6fb3").attr("stroke-width",3);
svg.append("path").attr("d",cl(cEnhanced)).attr("fill","none").attr("stroke","#3aa655").attr("stroke-width",3);
svg.append("rect").attr("x",496).attr("y",454).attr("width",313).attr("height",282).attr("fill","none").attr("stroke","#444").attr("stroke-width",1.4);
styleAx(svg.append("g").attr("transform","translate(496,0)").call(d3.axisLeft(cy).tickValues(cYTicks).tickFormat(d3.format(".3f")).tickSize(3).tickPadding(2)),17);
const hy=d=>d3.format(".1f")(d).replace("\u2212","-");
styleAx(svg.append("g").attr("transform","translate(0,736)").call(d3.axisBottom(cx).tickValues(cXTicks).tickFormat(hy).tickSize(0).tickPadding(3)),17);
lab(643,765,"t",{i:1,s:17});
lab(436,595,"V",{i:1,s:17,r:-90});
svg.append("rect").attr("x",562).attr("y",463).attr("width",181).attr("height",54).attr("rx",3).attr("fill","#fff").attr("fill-opacity",0.9).attr("stroke","#d8d8d8").attr("stroke-width",1);
svg.append("path").attr("d",d3.line()([[568,477],[603,477]])).attr("stroke","#2b6fb3").attr("stroke-width",1.8);
svg.append("path").attr("d",d3.line()([[568,501],[603,501]])).attr("stroke","#3aa655").attr("stroke-width",1.8);
lab(608,476,"True",{a:"start",s:17});
lab(608,501,"Enhanced EPR",{a:"start",s:17});

// panel letters
const letter=(x,y,t,s)=>svg.append("text").attr("x",x).attr("y",y).attr("font-size",s).text(t);
letter(15,20,"a",22);
letter(15,443,"b",24);
letter(456,443,"c",24);
</script></body></html>
